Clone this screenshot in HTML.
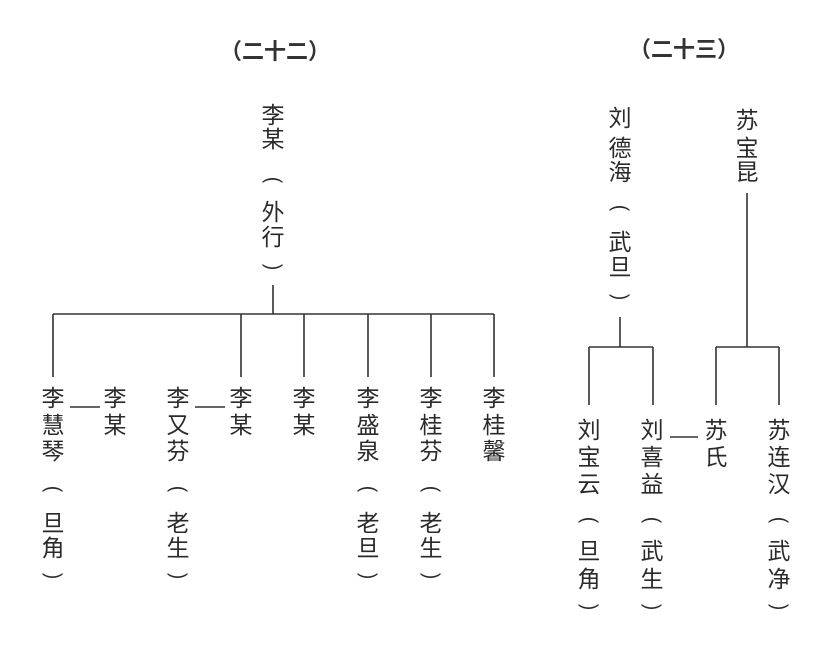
<!DOCTYPE html>
<html><head><meta charset="utf-8"><style>
html,body{margin:0;padding:0;background:#fff;}
#w{position:relative;width:831px;height:646px;overflow:hidden;background:#fff;}
.c{position:absolute;width:30px;height:26px;margin-left:-15px;margin-top:-13px;text-align:center;line-height:26px;font-size:23px;color:#2a2a2a;font-family:"Liberation Sans","Noto Sans CJK SC",sans-serif;}
.p{font-family:"Liberation Sans",sans-serif;font-size:21px;transform:rotate(90deg) scaleX(0.9);}
.t{position:absolute;font-size:22px;color:#333;font-family:"Liberation Sans","Noto Sans CJK SC",sans-serif;font-weight:bold;line-height:26px;transform:translate(-50%,-50%);white-space:nowrap;}
svg{position:absolute;left:0;top:0;}
</style></head><body><div id="w">
<svg width="831" height="646"><g stroke="#333" stroke-width="1.6" fill="none">
<path d="M273 285V314M53 314H494M53 314V377M241 314V377M304 314V377M368 314V377M431 314V377M494 314V377M70 407H100M195 407H225"/>
<path d="M620 317V347M589 347H653M589 347V405M653 347V405M747 193V347M716 347H779M716 347V405M779 347V405M670 437H698"/>
</g></svg>
<div class="t" style="left:275px;top:52px">（二十二）</div>
<div class="t" style="left:684px;top:50px">（二十三）</div>

<div class="c" style="left:273px;top:115px">李</div><div class="c" style="left:273px;top:139px">某</div><div class="c p" style="left:273px;top:180px">(</div><div class="c" style="left:273px;top:212px">外</div><div class="c" style="left:273px;top:237px">行</div><div class="c p" style="left:273px;top:267px">)</div>

<div class="c" style="left:53px;top:398px">李</div><div class="c" style="left:53px;top:425px">慧</div><div class="c" style="left:53px;top:451px">琴</div><div class="c p" style="left:53px;top:489px">(</div><div class="c" style="left:53px;top:523px">旦</div><div class="c" style="left:53px;top:548px">角</div><div class="c p" style="left:53px;top:576px">)</div>
<div class="c" style="left:115px;top:398px">李</div><div class="c" style="left:115px;top:425px">某</div>
<div class="c" style="left:178px;top:398px">李</div><div class="c" style="left:178px;top:425px">又</div><div class="c" style="left:178px;top:451px">芬</div><div class="c p" style="left:178px;top:489px">(</div><div class="c" style="left:178px;top:523px">老</div><div class="c" style="left:178px;top:548px">生</div><div class="c p" style="left:178px;top:576px">)</div>
<div class="c" style="left:241px;top:398px">李</div><div class="c" style="left:241px;top:425px">某</div>
<div class="c" style="left:304px;top:398px">李</div><div class="c" style="left:304px;top:425px">某</div>
<div class="c" style="left:368px;top:398px">李</div><div class="c" style="left:368px;top:425px">盛</div><div class="c" style="left:368px;top:451px">泉</div><div class="c p" style="left:368px;top:489px">(</div><div class="c" style="left:368px;top:523px">老</div><div class="c" style="left:368px;top:548px">旦</div><div class="c p" style="left:368px;top:576px">)</div>
<div class="c" style="left:431px;top:398px">李</div><div class="c" style="left:431px;top:425px">桂</div><div class="c" style="left:431px;top:451px">芬</div><div class="c p" style="left:431px;top:489px">(</div><div class="c" style="left:431px;top:523px">老</div><div class="c" style="left:431px;top:548px">生</div><div class="c p" style="left:431px;top:576px">)</div>
<div class="c" style="left:494px;top:398px">李</div><div class="c" style="left:494px;top:425px">桂</div><div class="c" style="left:494px;top:451px">馨</div>

<div class="c" style="left:620px;top:118px">刘</div><div class="c" style="left:620px;top:148px">德</div><div class="c" style="left:620px;top:172px">海</div><div class="c p" style="left:620px;top:208px">(</div><div class="c" style="left:620px;top:242px">武</div><div class="c" style="left:620px;top:267px">旦</div><div class="c p" style="left:620px;top:297px">)</div>
<div class="c" style="left:747px;top:120px">苏</div><div class="c" style="left:747px;top:148px">宝</div><div class="c" style="left:747px;top:172px">昆</div>

<div class="c" style="left:589px;top:430px">刘</div><div class="c" style="left:589px;top:457px">宝</div><div class="c" style="left:589px;top:484px">云</div><div class="c p" style="left:589px;top:520px">(</div><div class="c" style="left:589px;top:551px">旦</div><div class="c" style="left:589px;top:579px">角</div><div class="c p" style="left:589px;top:607px">)</div>
<div class="c" style="left:652px;top:430px">刘</div><div class="c" style="left:652px;top:457px">喜</div><div class="c" style="left:652px;top:484px">益</div><div class="c p" style="left:652px;top:520px">(</div><div class="c" style="left:652px;top:551px">武</div><div class="c" style="left:652px;top:579px">生</div><div class="c p" style="left:652px;top:607px">)</div>
<div class="c" style="left:716px;top:430px">苏</div><div class="c" style="left:716px;top:457px">氏</div>
<div class="c" style="left:779px;top:430px">苏</div><div class="c" style="left:779px;top:457px">连</div><div class="c" style="left:779px;top:484px">汉</div><div class="c p" style="left:779px;top:520px">(</div><div class="c" style="left:779px;top:551px">武</div><div class="c" style="left:779px;top:579px">净</div><div class="c p" style="left:779px;top:607px">)</div>
</div></body></html>
